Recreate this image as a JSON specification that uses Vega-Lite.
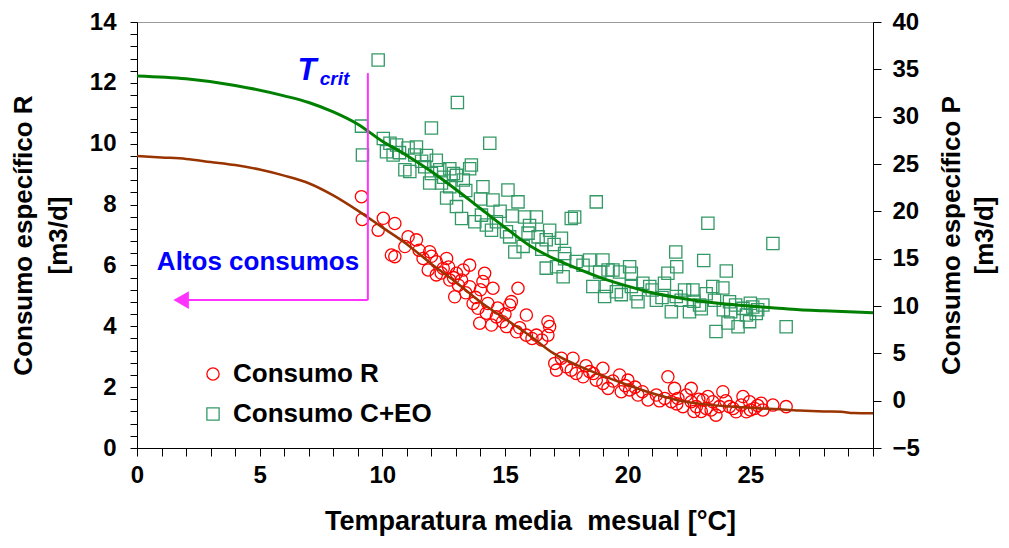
{
  "$schema": "https://vega.github.io/schema/vega-lite/v6.json",
  "width": 736,
  "height": 426,
  "autosize": "none",
  "padding": {"left": 137, "top": 22, "right": 136, "bottom": 100},
  "background": "white",
  "config": {
    "view": {"stroke": "#999999", "strokeWidth": 1},
    "axis": {"grid": false, "domainColor": "black", "tickColor": "black", "labelColor": "black", "titleColor": "black", "labelFont": "Liberation Sans", "titleFont": "Liberation Sans", "labelFontWeight": "bold", "titleFontWeight": "bold", "labelFontSize": 24, "titleFontSize": 26, "labelOverlap": false, "labelFlush": false, "tickWidth": 1, "domainWidth": 1}
  },
  "datasets": {
    "puntosR": [
      {"T": 9.15, "R": 8.26}, {"T": 9.18, "R": 7.51}, {"T": 10.04, "R": 7.55}, {"T": 9.83, "R": 7.16}, {"T": 10.51, "R": 7.38},
      {"T": 10.37, "R": 6.34}, {"T": 10.51, "R": 6.29}, {"T": 11.05, "R": 6.94}, {"T": 11.39, "R": 6.84}, {"T": 10.92, "R": 6.62},
      {"T": 11.93, "R": 6.45}, {"T": 11.66, "R": 6.23}, {"T": 12.2, "R": 6.12}, {"T": 11.87, "R": 5.85}, {"T": 12.62, "R": 6.23},
      {"T": 12.48, "R": 5.9}, {"T": 12.2, "R": 5.69}, {"T": 12.75, "R": 5.52}, {"T": 13.02, "R": 5.74}, {"T": 13.56, "R": 6.01},
      {"T": 13.23, "R": 5.52}, {"T": 12.95, "R": 4.97}, {"T": 13.56, "R": 5.3}, {"T": 13.7, "R": 4.75}, {"T": 14.17, "R": 5.74},
      {"T": 14.1, "R": 5.47}, {"T": 14.51, "R": 5.25}, {"T": 15.53, "R": 5.25}, {"T": 13.9, "R": 4.59}, {"T": 14.24, "R": 4.43},
      {"T": 13.97, "R": 4.1}, {"T": 14.45, "R": 4.04}, {"T": 14.65, "R": 4.31}, {"T": 15.19, "R": 4.7}, {"T": 15.26, "R": 4.81},
      {"T": 15.87, "R": 4.37}, {"T": 15.06, "R": 3.99}, {"T": 15.47, "R": 3.82}, {"T": 15.87, "R": 3.71}, {"T": 16.28, "R": 3.71},
      {"T": 16.75, "R": 4.15}, {"T": 16.82, "R": 3.99}, {"T": 16.75, "R": 3.71},
      {"T": 12.0, "R": 6.3}, {"T": 12.4, "R": 5.75}, {"T": 12.9, "R": 5.6}, {"T": 13.1, "R": 5.35}, {"T": 13.4, "R": 5.1},
      {"T": 13.8, "R": 4.95}, {"T": 14.3, "R": 4.75}, {"T": 14.7, "R": 4.6}, {"T": 15.0, "R": 4.4}, {"T": 13.3, "R": 5.85},
      {"T": 12.7, "R": 5.95}, {"T": 11.5, "R": 6.5}, {"T": 14.0, "R": 5.2}, {"T": 14.9, "R": 4.15}, {"T": 15.6, "R": 3.95},
      {"T": 16.1, "R": 3.6}, {"T": 16.5, "R": 3.55},
      {"T": 17.3, "R": 2.95}, {"T": 17.77, "R": 2.95}, {"T": 17.03, "R": 2.78}, {"T": 17.5, "R": 2.67}, {"T": 17.1, "R": 2.56},
      {"T": 17.7, "R": 2.56}, {"T": 18.18, "R": 2.34}, {"T": 18.45, "R": 2.51}, {"T": 18.99, "R": 2.62}, {"T": 18.72, "R": 2.23},
      {"T": 18.99, "R": 2.12}, {"T": 19.2, "R": 1.96}, {"T": 19.67, "R": 2.4}, {"T": 20.01, "R": 2.23}, {"T": 19.74, "R": 1.85},
      {"T": 20.08, "R": 1.91}, {"T": 20.42, "R": 1.74}, {"T": 20.83, "R": 1.58}, {"T": 21.17, "R": 1.74}, {"T": 21.64, "R": 2.34},
      {"T": 21.91, "R": 1.96}, {"T": 21.51, "R": 1.63}, {"T": 21.78, "R": 1.52}, {"T": 22.05, "R": 1.63}, {"T": 22.39, "R": 1.74},
      {"T": 22.59, "R": 1.96}, {"T": 22.59, "R": 1.52}, {"T": 22.25, "R": 1.36}, {"T": 22.8, "R": 1.36}, {"T": 23.07, "R": 1.58},
      {"T": 23.27, "R": 1.69}, {"T": 23.47, "R": 1.52}, {"T": 23.2, "R": 1.3}, {"T": 23.6, "R": 1.08}, {"T": 23.88, "R": 1.85},
      {"T": 23.74, "R": 1.36}, {"T": 24.15, "R": 1.36}, {"T": 24.42, "R": 1.19}, {"T": 24.7, "R": 1.69}, {"T": 24.63, "R": 1.41},
      {"T": 24.97, "R": 1.52}, {"T": 25.17, "R": 1.3}, {"T": 25.44, "R": 1.47}, {"T": 25.51, "R": 1.25}, {"T": 25.92, "R": 1.41},
      {"T": 26.46, "R": 1.36}, {"T": 24.84, "R": 1.19},
      {"T": 18.3, "R": 2.7}, {"T": 19.4, "R": 2.2}, {"T": 20.3, "R": 2.0}, {"T": 20.6, "R": 1.85}, {"T": 21.3, "R": 1.55},
      {"T": 22.0, "R": 1.45}, {"T": 22.9, "R": 1.6}, {"T": 23.4, "R": 1.25}, {"T": 23.0, "R": 1.2}, {"T": 24.0, "R": 1.55},
      {"T": 24.3, "R": 1.3}, {"T": 25.0, "R": 1.25}, {"T": 25.3, "R": 1.4}, {"T": 22.7, "R": 1.2}, {"T": 17.9, "R": 2.45},
      {"T": 18.6, "R": 2.45}, {"T": 19.9, "R": 2.05}
    ],
    "puntosP": [
      {"T": 9.83, "P": 35.98}, {"T": 9.15, "P": 29.0}, {"T": 9.19, "P": 25.95}, {"T": 13.06, "P": 31.5}, {"T": 12.0, "P": 28.8},
      {"T": 14.38, "P": 27.2}, {"T": 10.04, "P": 27.7}, {"T": 10.31, "P": 27.2}, {"T": 10.58, "P": 27.0}, {"T": 11.05, "P": 26.7},
      {"T": 11.39, "P": 26.8}, {"T": 10.17, "P": 26.3}, {"T": 10.44, "P": 25.95}, {"T": 11.32, "P": 25.95}, {"T": 10.92, "P": 24.4},
      {"T": 11.12, "P": 24.2}, {"T": 11.73, "P": 24.7}, {"T": 12.0, "P": 24.0}, {"T": 12.34, "P": 24.4}, {"T": 12.75, "P": 24.5},
      {"T": 13.02, "P": 23.8}, {"T": 11.93, "P": 23.0}, {"T": 12.41, "P": 23.0}, {"T": 12.75, "P": 22.6}, {"T": 13.3, "P": 23.3},
      {"T": 13.56, "P": 24.5}, {"T": 13.63, "P": 24.9}, {"T": 12.62, "P": 21.4}, {"T": 13.02, "P": 20.5}, {"T": 14.1, "P": 22.6},
      {"T": 14.51, "P": 21.2}, {"T": 15.12, "P": 22.25}, {"T": 15.53, "P": 21.0}, {"T": 13.23, "P": 19.25}, {"T": 13.77, "P": 18.9},
      {"T": 14.04, "P": 19.6}, {"T": 14.24, "P": 18.55}, {"T": 14.65, "P": 18.9}, {"T": 14.45, "P": 18.0}, {"T": 15.06, "P": 17.85},
      {"T": 15.19, "P": 17.3}, {"T": 15.8, "P": 19.4}, {"T": 16.28, "P": 19.4}, {"T": 15.94, "P": 17.7}, {"T": 16.35, "P": 17.3},
      {"T": 16.82, "P": 18.0}, {"T": 16.68, "P": 17.0}, {"T": 17.3, "P": 17.15}, {"T": 15.4, "P": 15.7}, {"T": 15.74, "P": 16.3},
      {"T": 17.7, "P": 19.25}, {"T": 17.84, "P": 19.4}, {"T": 18.72, "P": 21.0}, {"T": 16.68, "P": 14.0}, {"T": 17.1, "P": 14.15},
      {"T": 17.43, "P": 15.55}, {"T": 17.9, "P": 14.7}, {"T": 18.45, "P": 14.85}, {"T": 18.99, "P": 14.85}, {"T": 17.37, "P": 13.1},
      {"T": 18.58, "P": 12.05}, {"T": 19.13, "P": 12.05}, {"T": 19.4, "P": 13.8}, {"T": 20.08, "P": 14.15}, {"T": 20.15, "P": 13.45},
      {"T": 20.62, "P": 12.4}, {"T": 23.27, "P": 18.75}, {"T": 25.92, "P": 16.6}, {"T": 21.96, "P": 15.7}, {"T": 23.1, "P": 14.8},
      {"T": 24.02, "P": 13.7}, {"T": 22.0, "P": 14.15}, {"T": 21.64, "P": 13.45}, {"T": 17.43, "P": 15.0}, {"T": 18.18, "P": 14.3},
      {"T": 18.86, "P": 13.6}, {"T": 19.2, "P": 13.8}, {"T": 19.67, "P": 13.6}, {"T": 19.06, "P": 11.0}, {"T": 19.74, "P": 11.2},
      {"T": 20.15, "P": 12.05}, {"T": 20.42, "P": 10.45}, {"T": 20.9, "P": 12.05}, {"T": 21.17, "P": 10.6}, {"T": 21.5, "P": 12.4},
      {"T": 21.78, "P": 9.4}, {"T": 22.18, "P": 10.6}, {"T": 22.32, "P": 11.7}, {"T": 22.66, "P": 11.7}, {"T": 22.52, "P": 9.4},
      {"T": 22.93, "P": 10.1}, {"T": 23.2, "P": 11.3}, {"T": 23.47, "P": 12.05}, {"T": 23.54, "P": 10.6}, {"T": 23.88, "P": 11.9},
      {"T": 23.6, "P": 7.3}, {"T": 24.15, "P": 10.45}, {"T": 24.09, "P": 8.2}, {"T": 24.5, "P": 7.8}, {"T": 24.7, "P": 9.75},
      {"T": 24.84, "P": 9.05}, {"T": 25.1, "P": 9.9}, {"T": 25.24, "P": 9.2}, {"T": 25.51, "P": 10.1}, {"T": 24.97, "P": 8.35},
      {"T": 26.46, "P": 7.8}, {"T": 20.35, "P": 11.3}, {"T": 19.54, "P": 11.5}, {"T": 21.98, "P": 11.0},
      {"T": 10.7, "P": 26.2}, {"T": 11.6, "P": 25.3}, {"T": 12.2, "P": 25.4}, {"T": 12.9, "P": 24.0}, {"T": 12.5, "P": 23.6},
      {"T": 11.8, "P": 25.9}, {"T": 13.4, "P": 22.2}, {"T": 14.0, "P": 21.3}, {"T": 14.8, "P": 20.0}, {"T": 15.3, "P": 19.5},
      {"T": 16.0, "P": 18.5}, {"T": 16.5, "P": 16.0}, {"T": 17.0, "P": 16.5}, {"T": 22.7, "P": 10.5}, {"T": 23.0, "P": 9.7},
      {"T": 23.9, "P": 9.6}, {"T": 24.4, "P": 10.1}, {"T": 25.0, "P": 10.3}, {"T": 25.3, "P": 9.6}, {"T": 24.2, "P": 9.4},
      {"T": 21.0, "P": 11.7}, {"T": 21.4, "P": 10.9}
    ],
    "curvaR": [
      {"T": 0, "R": 9.6}, {"T": 1, "R": 9.55}, {"T": 2, "R": 9.5}, {"T": 3, "R": 9.4}, {"T": 4, "R": 9.3}, {"T": 5, "R": 9.15},
      {"T": 6, "R": 8.95}, {"T": 7, "R": 8.7}, {"T": 8, "R": 8.3}, {"T": 9, "R": 7.8}, {"T": 10, "R": 7.25}, {"T": 11, "R": 6.7},
      {"T": 12, "R": 6.05}, {"T": 13, "R": 5.45}, {"T": 14, "R": 4.8}, {"T": 15, "R": 4.25}, {"T": 16, "R": 3.7}, {"T": 17, "R": 3.1},
      {"T": 18, "R": 2.7}, {"T": 19, "R": 2.37}, {"T": 20, "R": 2.07}, {"T": 21, "R": 1.8}, {"T": 22, "R": 1.58}, {"T": 23, "R": 1.45},
      {"T": 24, "R": 1.37}, {"T": 25, "R": 1.32}, {"T": 26, "R": 1.28}, {"T": 27, "R": 1.23}, {"T": 28, "R": 1.2}, {"T": 28.7, "R": 1.19},
      {"T": 29.2, "R": 1.15}, {"T": 30, "R": 1.14}
    ],
    "curvaP": [
      {"T": 0, "P": 34.3}, {"T": 2, "P": 34.0}, {"T": 4, "P": 33.3}, {"T": 6, "P": 32.2}, {"T": 7, "P": 31.5}, {"T": 8, "P": 30.5},
      {"T": 9, "P": 29.2}, {"T": 10, "P": 27.4}, {"T": 11, "P": 25.9}, {"T": 12, "P": 24.2}, {"T": 13, "P": 22.3}, {"T": 14, "P": 20.3},
      {"T": 15, "P": 18.3}, {"T": 16, "P": 16.4}, {"T": 17, "P": 15.0}, {"T": 18, "P": 13.9}, {"T": 19, "P": 12.9}, {"T": 20, "P": 12.1},
      {"T": 21, "P": 11.4}, {"T": 22, "P": 10.9}, {"T": 23, "P": 10.5}, {"T": 24, "P": 10.2}, {"T": 25, "P": 10.0}, {"T": 26, "P": 9.8},
      {"T": 27, "P": 9.6}, {"T": 28, "P": 9.5}, {"T": 30, "P": 9.3}
    ],
    "flecha": [
      {"T": 9.41, "R": 12.32, "T2": 9.41, "R2": 4.86},
      {"T": 9.41, "R": 4.86, "T2": 2.0, "R2": 4.86}
    ],
    "punta": [{"T": 1.8, "R": 4.86}],
    "tT": [{"T": 6.93, "R": 12.09, "txt": "T"}],
    "tcrit": [{"T": 7.45, "R": 11.93, "txt": "crit"}],
    "altos": [{"T": 0.81, "R": 5.85, "txt": "Altos consumos"}]
  },
  "encoding": {
    "x": {"field": "T", "type": "quantitative", "scale": {"domain": [0, 30], "nice": false, "zero": false},
      "axis": {
        "values": [0,1,2,3,4,5,6,7,8,9,10,11,12,13,14,15,16,17,18,19,20,21,22,23,24,25,26,27,28,29,30],
        "labelExpr": "datum.value % 5 == 0 && datum.value < 30 ? format(datum.value, 'd') : ''",
        "labelOverlap": false,
        "labelFlush": false,
        "labelBound": false,
        "tickSize": 8,
        "labelPadding": 7,
        "title": "Temparatura media \u00a0mesual [°C]",
        "titleFontSize": 27,
        "titlePadding": 21,
        "titleX": 393,
        "encode": {"ticks": {"update": {"y": {"signal": "datum.value % 5 == 0 ? -8 : 0"}, "y2": {"signal": "datum.value % 5 == 0 ? 8 : -7"}}}}
      }
    }
  },
  "resolve": {"scale": {"y": "independent"}, "axis": {"y": "independent"}},
  "layer": [
    {
      "data": {"name": "puntosR"},
      "mark": {"type": "point", "filled": false, "strokeWidth": 1.3, "size": 150, "opacity": 1},
      "encoding": {
        "y": {"field": "R", "type": "quantitative", "scale": {"domain": [0, 14], "nice": false},
          "axis": {
            "orient": "left",
            "values": [0,0.4,0.8,1.2,1.6,2,2.4,2.8,3.2,3.6,4,4.4,4.8,5.2,5.6,6,6.4,6.8,7.2,7.6,8,8.4,8.8,9.2,9.6,10,10.4,10.8,11.2,11.6,12,12.4,12.8,13.2,13.6,14],
            "labelExpr": "abs(datum.value/2 - round(datum.value/2)) < 0.001 ? format(datum.value, 'd') : ''",
            "labelOverlap": false,
            "tickSize": 7,
            "labelPadding": 14,
            "title": ["Consumo específico R", "[m3/d]"],
            "titleLineHeight": 35,
            "titlePadding": 18,
            "encode": {"ticks": {"update": {"x": {"signal": "abs(datum.value/2 - round(datum.value/2)) < 0.001 ? 7 : 0"}, "x2": {"signal": "abs(datum.value/2 - round(datum.value/2)) < 0.001 ? -7 : 7"}}}}
          }
        },
        "color": {"datum": "Consumo R", "scale": {"domain": ["Consumo R", "Consumo C+EO"], "range": ["#ff0000", "#339966"]},
          "legend": {"orient": "none", "legendX": 63, "legendY": 339, "title": null, "labelFont": "Liberation Sans", "labelFontWeight": "bold", "labelFontSize": 26, "labelColor": "black", "labelLimit": 500, "symbolSize": 150, "symbolStrokeWidth": 1.3, "rowPadding": 14, "labelOffset": 7, "padding": 0}},
        "shape": {"datum": "Consumo R", "scale": {"domain": ["Consumo R", "Consumo C+EO"], "range": ["circle", "square"]},
          "legend": {"orient": "none", "legendX": 63, "legendY": 339, "title": null, "labelFont": "Liberation Sans", "labelFontWeight": "bold", "labelFontSize": 26, "labelColor": "black", "labelLimit": 500, "symbolSize": 150, "symbolStrokeWidth": 1.3, "rowPadding": 14, "labelOffset": 7, "padding": 0}}
      }
    },
    {
      "data": {"name": "puntosP"},
      "mark": {"type": "point", "filled": false, "strokeWidth": 1.3, "size": 150, "opacity": 1},
      "encoding": {
        "y": {"field": "P", "type": "quantitative", "scale": {"domain": [-5, 40], "nice": false, "zero": false},
          "axis": {
            "orient": "right",
            "values": [-5,0,5,10,15,20,25,30,35,40],
            "labelOverlap": false,
            "tickSize": 8,
            "labelPadding": 11,
            "title": ["Consumo específico P", "[m3/d]"],
            "titleAngle": -90,
            "titleLineHeight": 33,
            "titlePadding": 12,
            "encode": {"ticks": {"update": {"x": {"value": -8}}}}
          }
        },
        "color": {"datum": "Consumo C+EO"},
        "shape": {"datum": "Consumo C+EO"}
      }
    },
    {
      "data": {"name": "curvaR"},
      "mark": {"type": "line", "color": "#993300", "strokeWidth": 2.5, "interpolate": "monotone"},
      "encoding": {
        "y": {"field": "R", "type": "quantitative", "scale": {"domain": [0, 14], "nice": false}, "axis": null}
      }
    },
    {
      "data": {"name": "curvaP"},
      "mark": {"type": "line", "color": "#008000", "strokeWidth": 3, "interpolate": "monotone"},
      "encoding": {
        "y": {"field": "P", "type": "quantitative", "scale": {"domain": [-5, 40], "nice": false, "zero": false}, "axis": null}
      }
    },
    {
      "data": {"name": "flecha"},
      "mark": {"type": "rule", "color": "#ff33ff", "strokeWidth": 2},
      "encoding": {
        "x2": {"field": "T2"},
        "y": {"field": "R", "type": "quantitative", "scale": {"domain": [0, 14], "nice": false}, "axis": null},
        "y2": {"field": "R2"}
      }
    },
    {
      "data": {"name": "punta"},
      "mark": {"type": "point", "shape": "triangle-left", "filled": true, "color": "#ff33ff", "size": 320, "opacity": 1},
      "encoding": {
        "y": {"field": "R", "type": "quantitative", "scale": {"domain": [0, 14], "nice": false}, "axis": null}
      }
    },
    {
      "data": {"name": "tT"},
      "mark": {"type": "text", "font": "Liberation Sans", "fontWeight": "bold", "fontStyle": "italic", "fontSize": 31, "color": "#0000ff", "align": "center", "baseline": "alphabetic"},
      "encoding": {
        "y": {"field": "R", "type": "quantitative", "scale": {"domain": [0, 14], "nice": false}, "axis": null},
        "text": {"field": "txt"}
      }
    },
    {
      "data": {"name": "tcrit"},
      "mark": {"type": "text", "font": "Liberation Sans", "fontWeight": "bold", "fontStyle": "italic", "fontSize": 19, "color": "#0000ff", "align": "left", "baseline": "alphabetic"},
      "encoding": {
        "y": {"field": "R", "type": "quantitative", "scale": {"domain": [0, 14], "nice": false}, "axis": null},
        "text": {"field": "txt"}
      }
    },
    {
      "data": {"name": "altos"},
      "mark": {"type": "text", "font": "Liberation Sans", "fontWeight": "bold", "fontSize": 26, "color": "#0000ff", "align": "left", "baseline": "alphabetic"},
      "encoding": {
        "y": {"field": "R", "type": "quantitative", "scale": {"domain": [0, 14], "nice": false}, "axis": null},
        "text": {"field": "txt"}
      }
    }
  ]
}
